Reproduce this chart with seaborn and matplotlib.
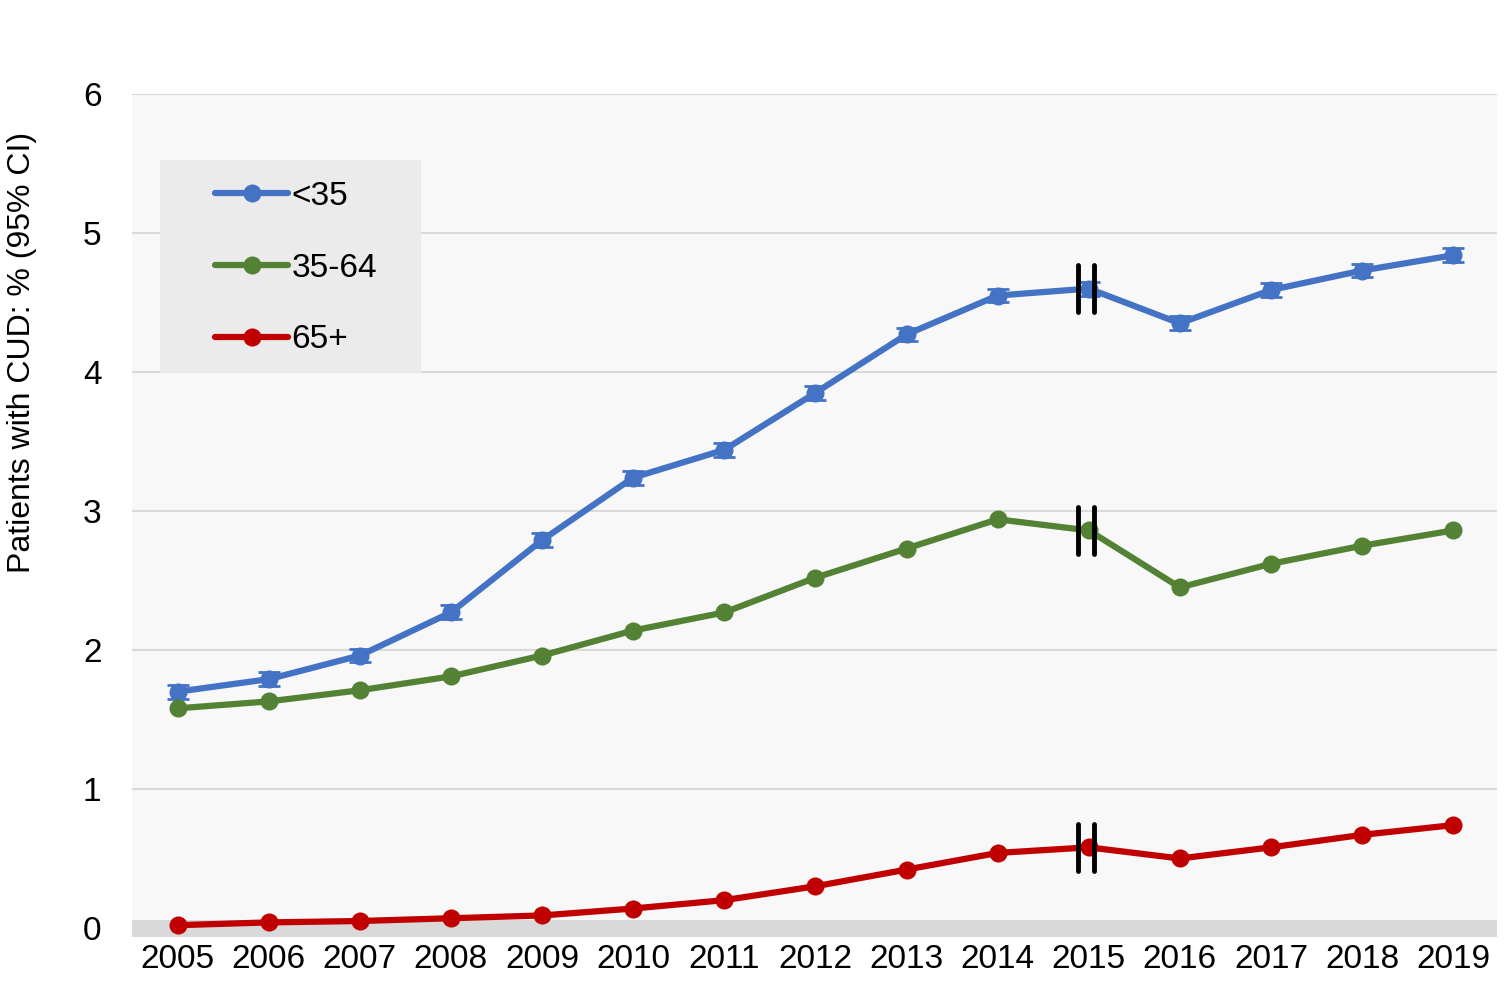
import numpy as np
import matplotlib.pyplot as plt
import seaborn as sns
import pandas as pd
from matplotlib.patches import Rectangle

years = list(range(2005, 2020))
under35 = [1.70, 1.79, 1.96, 2.27, 2.79, 3.24, 3.44, 3.85, 4.27, 4.55, 4.60, 4.35, 4.59, 4.73, 4.84]
mid35_64 = [1.58, 1.63, 1.71, 1.81, 1.96, 2.14, 2.27, 2.52, 2.73, 2.94, 2.86, 2.45, 2.62, 2.75, 2.86]
over65 = [0.02, 0.04, 0.05, 0.07, 0.09, 0.14, 0.20, 0.30, 0.42, 0.54, 0.58, 0.50, 0.58, 0.67, 0.74]
ci_under35 = [0.05, 0.05, 0.05, 0.05, 0.05, 0.05, 0.05, 0.05, 0.05, 0.05, 0.05, 0.05, 0.05, 0.05, 0.05]
groups = ["<35", "35-64", "65+"]
colors = ["#4472c4", "#548235", "#c00000"]
break_year = 2015

df = pd.DataFrame({
    "year": years * 3,
    "value": under35 + mid35_64 + over65,
    "group": ["<35"] * 15 + ["35-64"] * 15 + ["65+"] * 15,
})

sns.set_style("white")
plt.rcParams['font.family'] = ['Liberation Sans', 'DejaVu Sans']
plt.rcParams['text.color'] = 'black'

W, H = 1506, 981
fig = plt.figure(figsize=(W / 100, H / 100), dpi=100)
ax = fig.add_axes([132 / W, 44 / H, 1365 / W, 843 / H])
ax.set_facecolor("#f8f8f8")

# gridlines + thick gray base band
for v in range(1, 7):
    ax.axhline(v, color="#d9d9d9", lw=1.5, zorder=0)
ax.axhspan(-0.065, 0.058, color="#d9d9d9", lw=0, zorder=0)

ax.errorbar(years, under35, yerr=ci_under35, fmt="none", ecolor=colors[0],
            elinewidth=6, capsize=8, capthick=2, zorder=2)

sns.lineplot(data=df, x="year", y="value", hue="group", hue_order=groups,
             palette=colors, marker="o", markersize=13, markeredgewidth=0,
             linewidth=4.5, ax=ax, zorder=3)

# break markers at 2015
series = [under35, mid35_64, over65]
idx = years.index(break_year)
for s in series:
    yv = s[idx]
    for dx in (-0.12, 0.055):
        ax.plot([break_year + dx] * 2, [yv - 0.17, yv + 0.17], color="black", lw=3.5, zorder=4)

ax.set_xlim(2004.5, 2019.48)
ax.set_ylim(-0.065, 6)
ax.set_xticks(years)
ax.set_yticks(range(0, 7))
ax.tick_params(axis="both", length=0, labelsize=24, labelcolor="black")
ax.tick_params(axis="x", pad=5)
ax.tick_params(axis="y", pad=22)
for sp in ax.spines.values():
    sp.set_visible(False)
ax.set_xlabel("")
ax.set_ylabel("")
fig.text(22 / W, 1 - 352 / H, "Patients with CUD: % (95% CI)", fontsize=23,
         rotation=90, ha="center", va="center", color="black")

# legend box
ax.add_patch(Rectangle(((160 - 132) / 1365, (937 - 373) / 843), 261 / 1365, 213 / 843,
                       transform=ax.transAxes, facecolor="#ebebeb", edgecolor="none", zorder=1))
leg = ax.legend(loc="upper left", bbox_to_anchor=((215 - 132) / 1365, (937 - 181) / 843),
                fontsize=24, frameon=False, handlelength=2.2, handletextpad=0.1,
                labelspacing=1.22, borderpad=0, borderaxespad=0)
for line in leg.get_lines():
    line.set_linewidth(4.5)

fig.savefig("out.png", dpi=100)
